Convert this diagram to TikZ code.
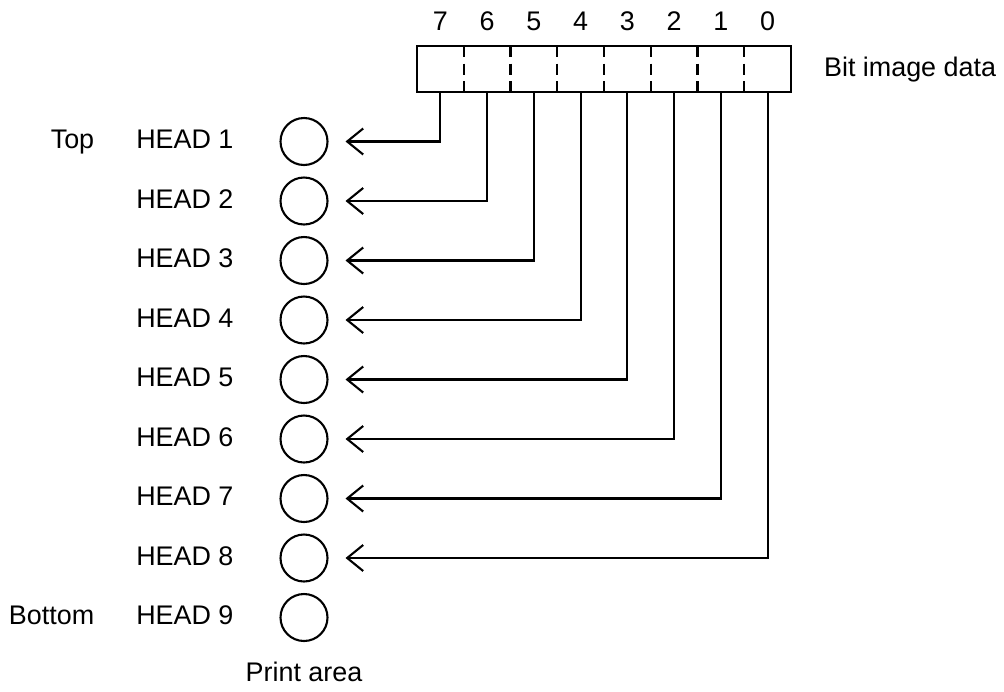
\documentclass[tikz,border=0pt]{standalone}
\usepackage{fontspec}
\setmainfont{Liberation Sans}
\usetikzlibrary{positioning}
\usetikzlibrary{arrows.meta}
\tikzset{
>={Straight Barb[length=8pt,width=13pt]}, % open barbed tips
my cell/.style={rectangle,minimum width=23.375pt,minimum height=23pt,inner sep=0pt,outer sep=0pt},
my head/.style={draw,circle,minimum size=23.5pt,inner sep=0pt,outer sep=0pt},
my label/.style={inner sep=0pt,text height=0.716em,text depth=0pt},
my bit/.style={label={[my label,label distance=7pt]above:#1}},
my sep/.style={dash pattern=on 5.5pt off 3.25pt},
my elbow/.style={to path={|- (\tikztotarget) \tikztonodes},shorten >=9pt},
}
\begin{document}
\begin{tikzpicture}[x=0.5pt,y=-0.5pt,line width=1.05pt,font=\fontsize{13.45pt}{16pt}\selectfont]
\useasboundingbox (0,0) rectangle (1004,691);
% the byte
\node[my cell,my bit=7] (b7) at (440.4,69) {};
\node[my cell,my bit=6,right=0pt of b7] (b6) {};
\node[my cell,my bit=5,right=0pt of b6] (b5) {};
\node[my cell,my bit=4,right=0pt of b5] (b4) {};
\node[my cell,my bit=3,right=0pt of b4] (b3) {};
\node[my cell,my bit=2,right=0pt of b3] (b2) {};
\node[my cell,my bit=1,right=0pt of b2] (b1) {};
\node[my cell,my bit=0,right=0pt of b1] (b0) {};
\draw (b7.north west) rectangle (b0.south east);
\draw[my sep] (b7.north east) -- (b7.south east) (b6.north east) -- (b6.south east)
              (b5.north east) -- (b5.south east) (b4.north east) -- (b4.south east)
              (b3.north east) -- (b3.south east) (b2.north east) -- (b2.south east)
              (b1.north east) -- (b1.south east);
\node[my label,right=16pt of b0] {Bit image data};
% the heads
\node[my head]                    (h1) at (304,141.5) {};
\node[my head,below=6.25pt of h1] (h2) {};
\node[my head,below=6.25pt of h2] (h3) {};
\node[my head,below=6.25pt of h3] (h4) {};
\node[my head,below=6.25pt of h4] (h5) {};
\node[my head,below=6.25pt of h5] (h6) {};
\node[my head,below=6.25pt of h6] (h7) {};
\node[my head,below=6.25pt of h7] (h8) {};
\node[my head,below=6.25pt of h8] (h9) {};
\node[my label,left=23pt of h1] (l1) {HEAD 1};
\node[my label,left=23pt of h2] (l2) {HEAD 2};
\node[my label,left=23pt of h3] (l3) {HEAD 3};
\node[my label,left=23pt of h4] (l4) {HEAD 4};
\node[my label,left=23pt of h5] (l5) {HEAD 5};
\node[my label,left=23pt of h6] (l6) {HEAD 6};
\node[my label,left=23pt of h7] (l7) {HEAD 7};
\node[my label,left=23pt of h8] (l8) {HEAD 8};
\node[my label,left=23pt of h9] (l9) {HEAD 9};
\node[my label,left=20pt of l1] {Top};
\node[my label,left=20pt of l9] {Bottom};
\node[my label,below=12.5pt of h9] {Print area};

\path[->] (b7) edge[my elbow] (h1)
          (b6) edge[my elbow] (h2)
          (b5) edge[my elbow] (h3)
          (b4) edge[my elbow] (h4)
          (b3) edge[my elbow] (h5)
          (b2) edge[my elbow] (h6)
          (b1) edge[my elbow] (h7)
          (b0) edge[my elbow] (h8);
\end{tikzpicture}
\end{document}
